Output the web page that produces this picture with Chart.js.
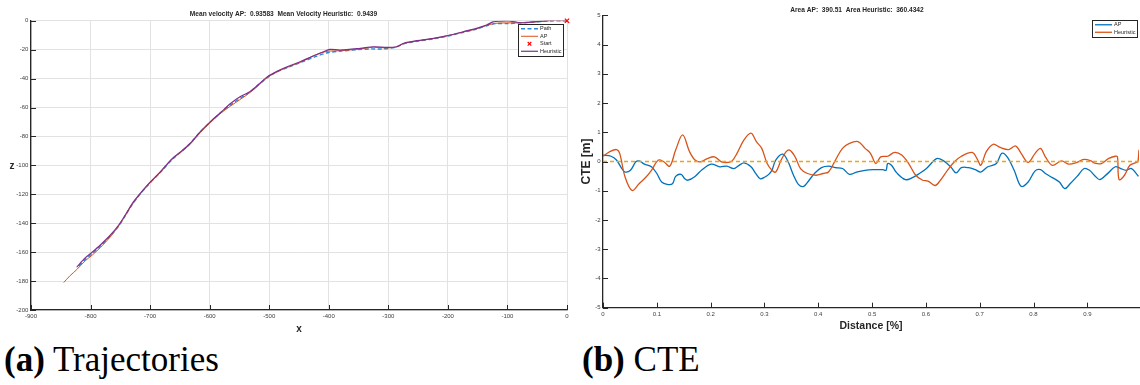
<!DOCTYPE html>
<html><head><meta charset="utf-8">
<script src="https://cdn.jsdelivr.net/npm/chart.js@4.4.1/dist/chart.umd.min.js"></script>
<style>
html,body{margin:0;padding:0;background:#fff;overflow:hidden;}
#wrap{position:relative;width:1140px;height:385px;}
#c1{position:absolute;left:0;top:0;}
#c2{position:absolute;left:575px;top:0;}
.cap{position:absolute;font-family:"Liberation Serif","DejaVu Serif",serif;font-size:35px;color:#000;white-space:nowrap;line-height:1;}
.cap b{font-weight:bold;}
</style></head><body>
<div id="wrap">
<canvas id="c1" width="575" height="340"></canvas>
<canvas id="c2" width="565" height="340"></canvas>
<div class="cap" style="left:4px;top:342px"><b>(a)</b> Trajectories</div>
<div class="cap" style="left:582px;top:342px"><b>(b)</b> CTE</div>
</div>
<script>
// ---------- (a) Trajectories ----------
const TRAJ_TITLE = 'Mean velocity AP:  0.93583  Mean Velocity Heuristic:  0.9439';
const TRAJ_X_TICKS = [-900,-800,-700,-600,-500,-400,-300,-200,-100,0];
const TRAJ_Z_TICKS = [-200,-180,-160,-140,-120,-100,-80,-60,-40,-20,0];

const PATH_X = [0,-20,-40,-60,-80,-100,-120,-135,-152,-174,-196,-224,-252,-274,-290,-310,-330,-350,-380,-400,-420,-448,-470,-490,-504,-520,-535,-550,-565,-580,-596,-616,-633,-649,-663,-683,-702,-719,-730,-742,-753,-767,-784,-797,-809,-823];
const PATH_Z = [0,0,-0.5,-1,-1.5,-2,-2,-3.5,-5.8,-8,-10.2,-12.5,-14.2,-16,-18.5,-19.5,-19.5,-20,-21,-22,-24.5,-29,-32.5,-36,-39.5,-45,-50,-54,-58.2,-63,-69,-77,-85,-91,-96,-105,-113,-121,-127,-135,-142,-149,-156,-161,-165,-171];

const AP_X = [0,-20,-40,-60,-80,-100,-120,-135,-152,-174,-196,-224,-252,-274,-288,-305,-325,-347,-381,-400,-415,-430,-448,-470,-490,-504,-520,-535,-550,-565,-580,-596,-616,-633,-649,-663,-683,-702,-719,-730,-742,-753,-767,-784,-797,-809,-823,-835,-845];
const AP_Z = [0,0.3,-0.3,-1,-1.5,-1.5,-1.8,-3.2,-5.6,-7.8,-10,-12.3,-14,-15.8,-18.3,-18.8,-18.3,-19.5,-20.8,-21,-22.5,-25,-28.8,-32.3,-36,-39.6,-45.5,-50.5,-54.8,-59,-63.5,-69.3,-77.5,-85.5,-91.2,-95.8,-105,-113,-121,-127,-135,-142,-149.5,-157,-162,-166,-172,-176.5,-181];

const HEU_X = [0,-17,-34,-56,-73,-85,-98,-110,-124,-135,-152,-174,-196,-224,-252,-274,-286,-302,-325,-347,-381,-398,-409,-426,-448,-470,-487,-504,-515,-532,-549,-565,-577,-596,-616,-633,-649,-663,-683,-702,-719,-730,-742,-753,-767,-784,-797,-809,-823];
const HEU_Z = [0,0.5,0,-0.8,-1.4,-1.0,-0.2,-0.3,-0.8,-3,-5.3,-7.6,-9.9,-12.2,-13.8,-15.6,-18,-18.4,-18,-19.1,-20.3,-19.8,-21.5,-24.4,-28.4,-31.8,-35,-39,-43,-49,-52.6,-57.2,-61.8,-68.7,-76.8,-84.9,-90.7,-95.3,-104.5,-112.5,-120.6,-126.4,-134.5,-141.4,-148.3,-155.2,-159.9,-164,-170.2];

const START_X = [0];
const START_Z = [0];

// ---------- (b) CTE ----------
const CTE_TITLE = 'Area AP:  390.51  Area Heuristic:  360.4342';
const CTE_D_TICKS = [0,0.1,0.2,0.3,0.4,0.5,0.6,0.7,0.8,0.9];
const CTE_TICKS = [-5,-4,-3,-2,-1,0,1,2,3,4,5];

const CTE_AP_D = [0,0.015,0.025,0.035,0.041,0.051,0.061,0.067,0.077,0.090,
  0.100,0.109,0.119,0.129,0.135,0.145,0.152,0.158,0.171,0.184,
  0.201,0.217,0.230,0.243,0.253,0.262,0.275,0.282,0.292,0.301,
  0.308,0.314,0.321,0.334,0.344,0.354,0.363,0.373,0.383,0.393,
  0.406,0.419,0.432,0.445,0.458,0.471,0.487,0.503,0.520,0.526,
  0.529,0.536,0.546,0.562,0.575,0.588,0.601,0.620,0.633,0.646,
  0.656,0.666,0.679,0.692,0.702,0.715,0.731,0.741,0.751,0.764,
  0.777,0.790,0.803,0.813,0.822,0.835,0.848,0.858,0.868,0.881,
  0.894,0.904,0.913,0.923,0.936,0.952,0.962,0.972,0.982,0.992,0.995];
const CTE_AP = [0.22,0.18,0.05,-0.24,-0.36,-0.30,-0.01,0.02,-0.09,-0.18,
  -0.41,-0.70,-0.78,-0.76,-0.51,-0.44,-0.59,-0.64,-0.51,-0.28,
  -0.09,-0.18,-0.16,-0.24,-0.13,-0.05,-0.18,-0.36,-0.59,-0.53,
  -0.44,-0.30,0.05,0.25,-0.01,-0.47,-0.78,-0.85,-0.64,-0.41,
  -0.21,-0.16,-0.21,-0.24,-0.44,-0.36,-0.30,-0.28,-0.28,-0.30,
  -0.07,-0.13,-0.39,-0.62,-0.55,-0.41,-0.24,0.10,0.02,-0.18,
  -0.39,-0.21,-0.21,-0.28,-0.36,-0.18,-0.07,0.28,0.16,-0.30,
  -0.85,-0.70,-0.32,-0.28,-0.41,-0.55,-0.70,-0.93,-0.76,-0.51,
  -0.24,-0.30,-0.47,-0.62,-0.44,-0.18,-0.24,-0.30,-0.24,-0.44,-0.51];

const CTE_H_D = [0,0.012,0.025,0.031,0.041,0.054,0.067,0.080,0.090,0.103,
  0.113,0.124,0.135,0.148,0.161,0.171,0.181,0.194,0.207,0.220,
  0.233,0.240,0.249,0.262,0.275,0.285,0.295,0.305,0.314,0.321,
  0.331,0.340,0.347,0.357,0.367,0.380,0.396,0.409,0.419,0.432,
  0.445,0.458,0.474,0.487,0.497,0.507,0.516,0.529,0.542,0.555,
  0.568,0.581,0.594,0.604,0.617,0.627,0.640,0.653,0.666,0.686,
  0.695,0.702,0.712,0.725,0.738,0.754,0.767,0.777,0.790,0.803,
  0.813,0.822,0.835,0.852,0.865,0.878,0.894,0.907,0.913,0.926,
  0.939,0.952,0.956,0.959,0.969,0.979,0.991,0.994,0.996];
const CTE_H = [0.18,0.33,0.41,0.28,-0.53,-0.99,-0.76,-0.53,-0.30,0.05,
  -0.01,-0.16,0.39,0.91,0.33,0.05,-0.01,0.10,0.16,-0.01,
  -0.03,0.02,0.28,0.74,0.97,0.68,0.45,-0.07,-0.30,-0.36,
  0.05,0.33,0.39,0.16,-0.24,-0.41,-0.47,-0.41,-0.36,0.05,
  0.45,0.62,0.68,0.45,0.28,-0.07,0.16,0.18,0.31,0.22,
  -0.07,-0.47,-0.64,-0.67,-0.82,-0.64,-0.30,-0.01,0.18,0.31,
  0.10,-0.13,0.33,0.59,0.48,0.41,0.53,0.28,-0.03,0.28,
  0.45,0.16,-0.13,0.02,-0.09,-0.05,0.07,0.02,-0.05,-0.07,
  0.10,0.18,0.16,-0.62,-0.47,-0.13,-0.03,0.0,0.40];

const ZERO_D = [0,1];
const ZERO_CTE = [0,0];

// ---------- helpers / plugins ----------
const zip = (xs, ys) => xs.slice(0, Math.min(xs.length, ys.length)).map((x,i) => ({x, y: ys[i]}));
const SANS = '"Liberation Sans", Arial, Helvetica, sans-serif';
const INK = '#262626';

const boxLegend = {
  id: 'boxLegend',
  afterDraw(chart, args, o) {
    if (!o || !o.show) return;
    const {ctx, chartArea} = chart;
    const items = chart.data.datasets.filter(d => d.label && !d.noLegend);
    ctx.save();
    const h = items.length * o.rowH + o.pad * 2;
    const x = chartArea.right - o.right - o.width;
    const y = chartArea.top + o.top;
    ctx.fillStyle = '#fff';
    ctx.fillRect(x, y, o.width, h);
    ctx.strokeStyle = INK; ctx.lineWidth = 1;
    ctx.strokeRect(Math.round(x) + 0.5, Math.round(y) + 0.5, o.width, h);
    ctx.font = o.fontSize + 'px ' + SANS;
    ctx.textBaseline = 'middle'; ctx.textAlign = 'left';
    items.forEach((d, i) => {
      const cy = y + o.pad + o.rowH * (i + 0.5);
      const x0 = x + 3, x1 = x + 3 + o.lineLen;
      if (d.showLine === false) {
        const cx = (x0 + x1) / 2, r = 1.8;
        ctx.strokeStyle = d.pointBorderColor; ctx.lineWidth = 1.2; ctx.setLineDash([]);
        ctx.beginPath();
        ctx.moveTo(cx - r, cy - r); ctx.lineTo(cx + r, cy + r);
        ctx.moveTo(cx - r, cy + r); ctx.lineTo(cx + r, cy - r);
        ctx.stroke();
      } else {
        ctx.strokeStyle = d.borderColor; ctx.lineWidth = d.borderWidth;
        ctx.setLineDash(d.borderDash || []);
        ctx.beginPath(); ctx.moveTo(x0, cy); ctx.lineTo(x1, cy); ctx.stroke();
        ctx.setLineDash([]);
      }
      ctx.fillStyle = INK;
      ctx.fillText(d.label, x1 + 2, cy);
    });
    ctx.restore();
  }
};

const inTicks = {
  id: 'inTicks',
  afterDatasetsDraw(chart, args, o) {
    if (!o || !o.len) return;
    const {ctx, chartArea, scales} = chart;
    ctx.save();
    ctx.strokeStyle = INK; ctx.lineWidth = 1;
    ctx.beginPath();
    scales.x.ticks.forEach(t => {
      const p = Math.round(scales.x.getPixelForValue(t.value)) + 0.5;
      ctx.moveTo(p, chartArea.bottom); ctx.lineTo(p, chartArea.bottom - o.len);
    });
    scales.y.ticks.forEach(t => {
      const p = Math.round(scales.y.getPixelForValue(t.value)) + 0.5;
      ctx.moveTo(chartArea.left, p); ctx.lineTo(chartArea.left + o.len, p);
    });
    ctx.stroke();
    ctx.restore();
  }
};

const uprightYTitle = {
  id: 'uprightYTitle',
  afterDraw(chart, args, o) {
    if (!o || !o.text) return;
    const {ctx, chartArea} = chart;
    ctx.save();
    ctx.font = 'bold ' + o.size + 'px ' + SANS;
    ctx.fillStyle = INK; ctx.textAlign = 'center'; ctx.textBaseline = 'middle';
    ctx.fillText(o.text, o.x, (chartArea.top + chartArea.bottom) / 2 + o.dy);
    ctx.restore();
  }
};

Chart.register(boxLegend, inTicks, uprightYTitle);

const tickFont = {family: SANS, size: 6};
const fixTicks = arr => scale => { scale.ticks = arr.map(v => ({value: v})); };

// ---------- chart (a) ----------
new Chart(document.getElementById('c1'), {
  type: 'scatter',
  data: {datasets: [
    {label: 'Path', data: zip(PATH_X, PATH_Z), showLine: true, borderColor: '#2b8ad6', borderWidth: 1.4, borderDash: [4, 2.5], pointRadius: 0, tension: 0.3, order: 4},
    {label: 'AP', data: zip(AP_X, AP_Z), showLine: true, borderColor: '#D95319', borderWidth: 1, pointRadius: 0, tension: 0.3, order: 3},
    {label: 'Start', data: zip(START_X, START_Z), showLine: false, pointStyle: 'crossRot', pointRadius: 3, pointBorderColor: '#FF0000', pointBackgroundColor: '#FF0000', pointBorderWidth: 1.3, borderColor: '#FF0000', order: 0, clip: false},
    {label: 'Heuristic', data: zip(HEU_X, HEU_Z), showLine: true, borderColor: '#7E2F8E', borderWidth: 1.2, pointRadius: 0, tension: 0.3, order: 1}
  ]},
  options: {
    responsive: false, animation: false, events: [],
    layout: {padding: {left: 0, right: 8, top: 0, bottom: 0}},
    plugins: {
      legend: {display: false}, tooltip: {enabled: false},
      title: {display: true, text: TRAJ_TITLE, color: INK, font: {family: SANS, size: 6.6, weight: 'bold'}, padding: {top: 10, bottom: 2.8}},
      boxLegend: {show: true, width: 45, rowH: 7.5, pad: 1, right: 4, top: 3.3, lineLen: 17, fontSize: 5.5},
      inTicks: {len: 5},
      uprightYTitle: {text: 'z', size: 10, x: 12, dy: 1}
    },
    scales: {
      x: {type: 'linear', min: -900, max: 0,
        afterBuildTicks: fixTicks(TRAJ_X_TICKS),
        ticks: {font: tickFont, color: '#404040', padding: 3, maxRotation: 0, autoSkip: false, callback: v => String(v)},
        grid: {color: '#e2e2e2', lineWidth: 1, drawTicks: false},
        border: {display: true, color: INK, width: 1.3},
        title: {display: true, text: 'x', color: INK, font: {family: SANS, size: 10, weight: 'bold'}, padding: {top: 0, bottom: 5}},
        afterFit: s => { s.height = 30; }
      },
      y: {type: 'linear', min: -200, max: 0,
        afterBuildTicks: fixTicks(TRAJ_Z_TICKS),
        ticks: {font: tickFont, color: '#404040', padding: 2.7, autoSkip: false, callback: v => String(v)},
        grid: {color: '#e2e2e2', lineWidth: 1, drawTicks: false},
        border: {display: true, color: INK, width: 1.3},
        afterFit: s => { s.width = 31; }
      }
    }
  }
});

// ---------- chart (b) ----------
new Chart(document.getElementById('c2'), {
  type: 'scatter',
  data: {datasets: [
    {label: 'AP', data: zip(CTE_AP_D, CTE_AP), showLine: true, borderColor: '#0072BD', borderWidth: 1.3, pointRadius: 0, tension: 0.35, order: 3},
    {label: 'Heuristic', data: zip(CTE_H_D, CTE_H), showLine: true, borderColor: '#D95319', borderWidth: 1.3, pointRadius: 0, tension: 0.35, order: 2},
    {label: 'zero', noLegend: true, data: zip(ZERO_D, ZERO_CTE), showLine: true, borderColor: '#EAA51A', backgroundColor: '#EAA51A', borderWidth: 1.4, borderDash: [4, 3], pointRadius: 0, order: 1}
  ]},
  options: {
    responsive: false, animation: false, events: [],
    layout: {padding: {left: 0, right: 1, top: 0, bottom: 0}},
    plugins: {
      legend: {display: false}, tooltip: {enabled: false},
      title: {display: true, text: CTE_TITLE, color: INK, font: {family: SANS, size: 6.6, weight: 'bold'}, padding: {top: 6.3, bottom: 1.1}},
      boxLegend: {show: true, width: 45, rowH: 7.5, pad: 1, right: 2, top: 4.7, lineLen: 17, fontSize: 5.5},
      inTicks: {len: 5}
    },
    scales: {
      x: {type: 'linear', min: 0, max: 0.996,
        afterBuildTicks: fixTicks(CTE_D_TICKS),
        ticks: {font: tickFont, color: '#404040', padding: 2.7, maxRotation: 0, autoSkip: false, includeBounds: false, callback: v => String(v)},
        grid: {display: false, drawTicks: false},
        border: {display: true, color: INK, width: 1.3},
        title: {display: true, text: 'Distance [%]', color: INK, font: {family: SANS, size: 10.5, weight: 'bold'}, padding: {top: 0, bottom: 7.7}},
        afterFit: s => { s.height = 32.3; }
      },
      y: {type: 'linear', min: -5, max: 5,
        afterBuildTicks: fixTicks(CTE_TICKS),
        ticks: {font: tickFont, color: '#404040', padding: 2.3, autoSkip: false, callback: v => String(v)},
        grid: {display: false, drawTicks: false},
        border: {display: true, color: INK, width: 1.3},
        title: {display: true, text: 'CTE [m]', color: INK, font: {family: SANS, size: 12, weight: 'bold'}, padding: {top: 4.8, bottom: 0}},
        afterFit: s => { s.width = 28; }
      }
    }
  }
});
</script>
</body></html>
